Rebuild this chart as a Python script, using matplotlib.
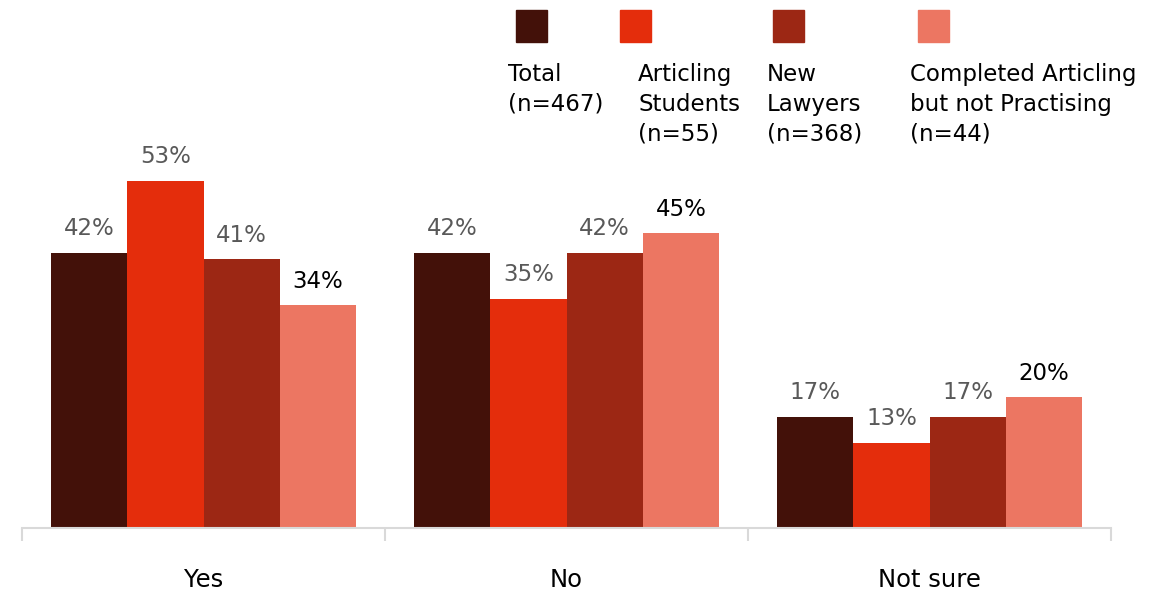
import numpy as np
import matplotlib.pyplot as plt
from matplotlib.patches import Rectangle

# données du graphique
categories = ["Yes", "No", "Not sure"]
series_names = ["Total\n(n=467)", "Articling\nStudents\n(n=55)", "New\nLawyers\n(n=368)",
                "Completed Articling\nbut not Practising\n(n=44)"]
total = [42, 42, 17]
articling = [53, 35, 13]
new_lawyers = [41, 42, 17]
completed = [34, 45, 20]

colors = ["#431109", "#E42D0C", "#9C2714", "#EC7662"]
label_colors = ["#595959", "#595959", "#595959", "#000000"]

plt.rcParams['font.family'] = ['DejaVu Sans']

fig = plt.figure(figsize=(11.65, 5.99), dpi=100)
ax = fig.add_axes([22 / 1165, 71 / 599, 1089 / 1165, 393 / 599])

x = np.arange(len(categories))
width = 0.21
series = [total, articling, new_lawyers, completed]

for i, vals in enumerate(series):
    pos = x + (i - 1.5) * width
    bars = ax.bar(pos, vals, width, color=colors[i], edgecolor="none")
    for b, v in zip(bars, vals):
        ax.annotate(f"{v}%", (b.get_x() + b.get_width() / 2, v),
                    xytext=(0, 9), textcoords="offset points",
                    ha="center", va="bottom", fontsize=16.5, color=label_colors[i])

ax.set_xlim(-0.5, 2.5)
ax.set_ylim(0, 60)
ax.set_yticks([])
ax.set_xticks(x)
ax.set_xticklabels(categories, fontsize=17.5, color="#000000")
ax.tick_params(axis="x", which="major", length=0, pad=29)
ax.set_xticks([-0.5, 0.5, 1.5, 2.5], minor=True)
ax.tick_params(axis="x", which="minor", length=9, color="#d9d9d9", width=1.5)

for s in ["top", "right", "left"]:
    ax.spines[s].set_visible(False)
ax.spines["bottom"].set_color("#d9d9d9")
ax.spines["bottom"].set_linewidth(1.5)

# légende manuelle : carrés au-dessus du texte
sq_x = [516, 620, 773, 918]
txt_x = [508, 638, 767, 910]
for i in range(4):
    fig.patches.append(Rectangle((sq_x[i] / 1165, 1 - 42 / 599), 31 / 1165, 32 / 599,
                                 transform=fig.transFigure, color=colors[i]))
    fig.text(txt_x[i] / 1165, 1 - 63 / 599, series_names[i], ha="left", va="top",
             fontsize=16.5, color="#000000", linespacing=1.38)

fig.savefig("out.png", dpi=100)
